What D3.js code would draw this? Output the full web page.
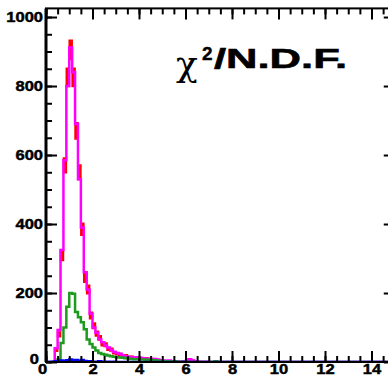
<!DOCTYPE html>
<html>
<head>
<meta charset="utf-8">
<script src="https://cdn.jsdelivr.net/npm/d3@7"></script>
<style>
  html, body { margin: 0; padding: 0; background: #fff; overflow: hidden; }
  svg { display: block; }
  .tick text { font-family: "Liberation Sans", Arial, sans-serif; font-weight: bold; font-size: 14px; fill: #000; stroke: #000; stroke-width: 0.45px; }
</style>
</head>
<body>
<svg id="chart" width="388" height="375"></svg>
<script>
// Histogram binning: 120 bins of width 0.125 over [0, 15]
const binWidth = 0.125;
const nBins = 120;
const xTicks = [0, 2, 4, 6, 8, 10, 12, 14];
const yTicks = [0, 200, 400, 600, 800, 1000];

// Bin contents, starting at bin 0 (x = 0); bins past the end of a list are empty
const dataCounts = [0, 0, 0, 35, 80, 310, 570, 825, 905, 825, 670, 550, 385, 245, 210, 135,
  105, 82, 70, 52, 50, 38, 36, 27, 24, 22, 17, 19, 13, 15, 11, 13, 10, 9, 11, 8, 9, 7, 6, 6,
  4, 3, 2, 3, 1, 2, 1, 1, 2, 6, 5, 3, 2, 1, 1, 0, 1];
const totalCounts = [0, 0, 0, 40, 93, 325, 585, 800, 912, 840, 690, 530, 390, 260, 210, 140,
  100, 85, 66, 57, 48, 42, 35, 30, 26, 24, 19, 17, 15, 14, 13, 14, 12, 11, 9, 10, 8, 9, 7, 5,
  4, 3, 4, 2, 2, 1, 1, 2, 3, 8, 4, 2, 1, 1, 0, 1, 0, 0, 1];
const greenCounts = [0, 0, 0, 2, 8, 55, 100, 160, 200, 198, 145, 130, 115, 95, 65, 52,
  42, 33, 26, 23, 21, 19, 17, 15, 14, 13, 12, 11, 10, 9, 8, 8, 7, 7, 6, 7, 6, 5, 4, 3,
  3, 2, 2, 1, 2, 1, 1, 0, 1, 0, 0, 0, 0, 0, 0, 0, 0, 0, 2];
const blueCounts = [0, 0, 1, 2, 3, 4, 3, 5, 7, 4, 6, 3, 6, 3, 2, 2, 1, 1, 2, 1, 0, 1, 0, 1];

const svg = d3.select("#chart");

const x = d3.scaleLinear().domain([0, 15]).range([46, 394.75]);
const y = d3.scaleLinear().domain([0, 1025]).range([362, 8.4]);

const plot = svg.append("g");
svg.append("clipPath").attr("id", "plotClip")
  .append("rect")
  .attr("x", x(0)).attr("y", y(1025))
  .attr("width", x(15) - x(0)).attr("height", y(0) - y(1025));

const layer = plot.append("g").attr("clip-path", "url(#plotClip)");

// Outline of a histogram: horizontal run over every bin, vertical steps between bins
function stepPoints(counts) {
  const pts = [[0, 0]];
  for (let k = 0; k < nBins; k++) {
    const v = k < counts.length ? counts[k] : 0;
    pts.push([k * binWidth, v], [(k + 1) * binWidth, v]);
  }
  pts.push([nBins * binWidth, 0]);
  return pts;
}
const line = d3.line().x(d => x(d[0])).y(d => y(d[1]));

// Data: vertical error bars (sqrt N) at bin centres
layer.append("g").selectAll("line")
  .data(dataCounts.map((v, k) => ({ k, v })).filter(d => d.v > 0))
  .join("line")
  .attr("x1", d => x((d.k + 0.5) * binWidth))
  .attr("x2", d => x((d.k + 0.5) * binWidth))
  .attr("y1", d => y(d.v - Math.sqrt(d.v)))
  .attr("y2", d => y(d.v + Math.sqrt(d.v)))
  .attr("stroke", "#ff0000")
  .attr("stroke-width", 4.5);

const series = [
  { counts: totalCounts, color: "#ff00ff" },
  { counts: greenCounts, color: "#1f9a1f" },
  { counts: blueCounts, color: "#0000ff" }
];
layer.selectAll("path.hist")
  .data(series)
  .join("path")
  .attr("class", "hist")
  .attr("d", d => line(stepPoints(d.counts)))
  .attr("fill", "none")
  .attr("stroke", d => d.color)
  .attr("stroke-width", 2.5)
  .attr("stroke-linejoin", "miter");

// Frame
plot.append("rect")
  .attr("x", x(0)).attr("y", y(1025))
  .attr("width", x(15) - x(0)).attr("height", y(0) - y(1025))
  .attr("fill", "none").attr("stroke", "#000").attr("stroke-width", 2);
plot.append("line")
  .attr("x1", x(0)).attr("x2", x(0)).attr("y1", y(1025)).attr("y2", y(0))
  .attr("stroke", "#000").attr("stroke-width", 3);

const xMinor = d3.range(0, 15.01, 0.5);
const yMinor = d3.range(0, 1025, 50);
const majorLen = 11, minorLen = 6;

function styleAxis(g) {
  g.select(".domain").remove();
  g.selectAll(".tick line").attr("stroke", "#000").attr("stroke-width", 2);
}

// Inward ticks on all four sides
svg.append("g").attr("transform", `translate(0,${y(0)})`)
  .call(d3.axisBottom(x).tickValues(xMinor).tickSizeInner(-minorLen).tickFormat(""))
  .call(styleAxis);
const xAxis = svg.append("g").attr("transform", `translate(0,${y(0)})`)
  .call(d3.axisBottom(x).tickValues(xTicks).tickSizeInner(-majorLen).tickPadding(2).tickFormat(d3.format("d")))
  .call(styleAxis);
svg.append("g").attr("transform", `translate(0,${y(1025)})`)
  .call(d3.axisTop(x).tickValues(xMinor).tickSizeInner(-minorLen).tickFormat(""))
  .call(styleAxis);
svg.append("g").attr("transform", `translate(0,${y(1025)})`)
  .call(d3.axisTop(x).tickValues(xTicks).tickSizeInner(-majorLen).tickFormat(""))
  .call(styleAxis);

svg.append("g").attr("transform", `translate(${x(0)},0)`)
  .call(d3.axisLeft(y).tickValues(yMinor).tickSizeInner(-minorLen).tickFormat(""))
  .call(styleAxis);
const yAxis = svg.append("g").attr("transform", `translate(${x(0)},0)`)
  .call(d3.axisLeft(y).tickValues(yTicks).tickSizeInner(-majorLen).tickPadding(3).tickFormat(d3.format("d")))
  .call(styleAxis);
svg.append("g").attr("transform", `translate(${x(15)},0)`)
  .call(d3.axisRight(y).tickValues(yMinor).tickSizeInner(-minorLen).tickFormat(""))
  .call(styleAxis);
svg.append("g").attr("transform", `translate(${x(15)},0)`)
  .call(d3.axisRight(y).tickValues(yTicks).tickSizeInner(-majorLen).tickFormat(""))
  .call(styleAxis);

// Slightly wide label lettering
function widen(sel, sx) {
  sel.selectAll(".tick text").each(function () {
    const t = d3.select(this);
    const tx = +t.attr("x") || 0;
    t.attr("x", 0).attr("transform", `translate(${tx},0) scale(${sx},1)`);
  });
}
widen(xAxis, 1.18);
widen(yAxis, 1.18);

// The two zero labels share the corner; nudge them apart the way the axes place them
yAxis.selectAll(".tick").filter(d => d === 0).select("text").attr("dy", "0.1em").attr("transform", "translate(-7,0) scale(1.18,1)");
xAxis.selectAll(".tick").filter(d => d === 0).select("text").attr("transform", "translate(-4,0) scale(1.18,1)");

// Title
const title = svg.append("g").attr("fill", "#000");
title.append("text")
  .attr("x", 176).attr("y", 76)
  .attr("font-family", "'DejaVu Serif', 'Liberation Serif', serif")
  .attr("font-size", 36)
  .text("χ");
title.append("text")
  .attr("x", 202).attr("y", 60)
  .attr("font-family", "'Liberation Sans', Arial, sans-serif")
  .attr("font-weight", "bold")
  .attr("font-size", 19)
  .attr("stroke", "#000").attr("stroke-width", 0.4)
  .text("2");
title.append("text")
  .attr("x", 214).attr("y", 67.5)
  .attr("font-family", "'Liberation Sans', Arial, sans-serif")
  .attr("font-weight", "bold")
  .attr("font-size", 28.5)
  .attr("stroke", "#000").attr("stroke-width", 0.6)
  .attr("textLength", 133)
  .attr("lengthAdjust", "spacingAndGlyphs")
  .text("/N.D.F.");
</script>
</body>
</html>
